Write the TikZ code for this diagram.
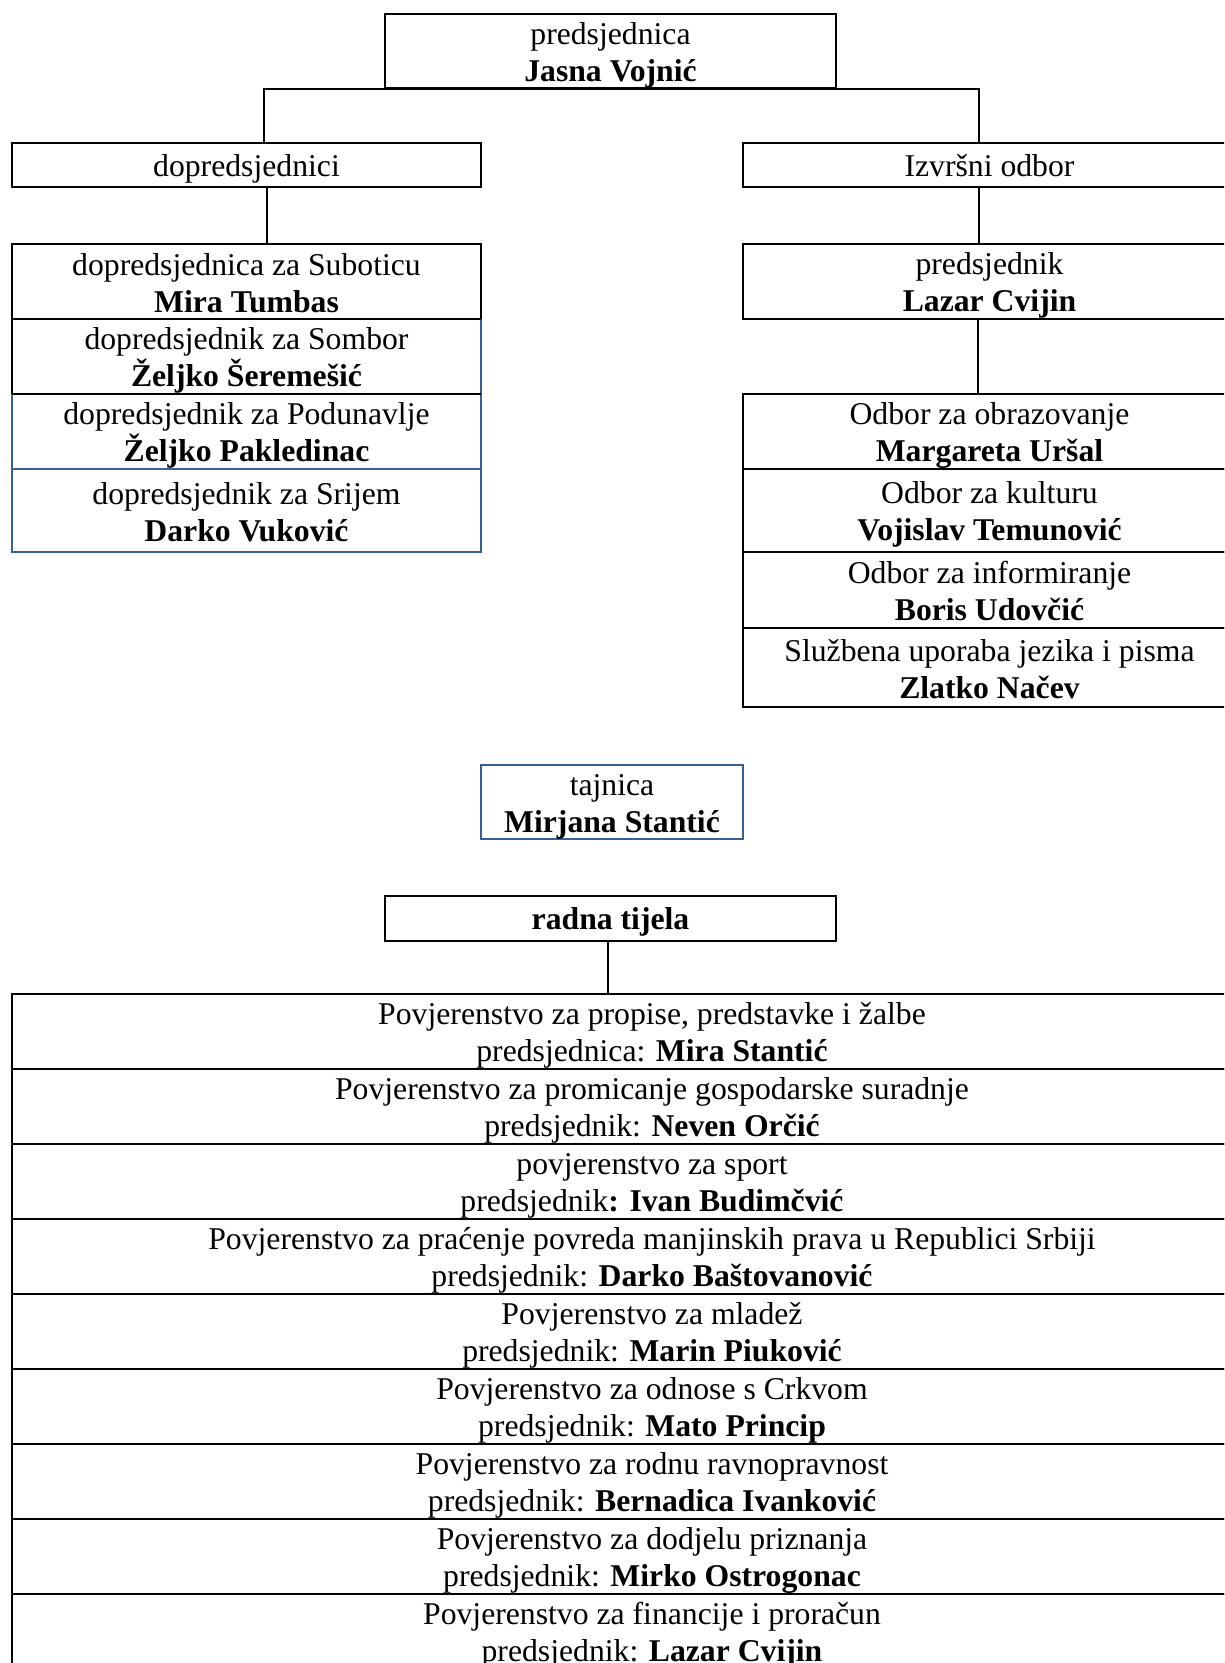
\documentclass[tikz,border=0pt]{standalone}
\usepackage{fontspec}
\setmainfont{Liberation Serif}
\definecolor{bordblue}{RGB}{56,96,148}
\newcommand{\twol}[2]{\rule{0pt}{30pt}#1\\#2\rule[-6pt]{0pt}{6pt}}
\tikzset{
  plainbox/.style={inner sep=0pt, align=center, font=\fontsize{31.7}{37}\selectfont},
  orgbox/.style={plainbox, draw=black, line width=2pt},
  singlebox/.style={orgbox, text height=30pt, text depth=8pt},
  conn/.style={draw=black, line width=2pt},
  bluebox/.style={orgbox, draw=bordblue},
}
\begin{document}
\begin{tikzpicture}[x=1pt,y=-1pt]
\useasboundingbox (0,0) rectangle (1224,1663);
\clip (0,0) rectangle (1224,1663);
\fill[white] (0,0) rectangle (1224,1663);

% top
\node[orgbox, minimum width=451pt, minimum height=74pt] (top) at (610.5,51) {\twol{predsjednica}{\textbf{Jasna Vojnić}}};

% second level
\node[singlebox, minimum width=469pt, minimum height=44pt] (dop) at (246.5,165) {dopredsjednici};
\node[singlebox, minimum width=493pt, minimum height=44pt] (izv) at (989.5,165) {Izvršni odbor};

% left stack
\node[plainbox, minimum width=469pt, minimum height=75pt] (L1) at (246.5,281.5) {\twol{dopredsjednica za Suboticu}{\textbf{Mira Tumbas}}};
\node[plainbox, minimum width=469pt, minimum height=75pt] (L2) at (246.5,356.5) {\twol{dopredsjednik za Sombor}{\textbf{Željko Šeremešić}}};
\node[plainbox, minimum width=469pt, minimum height=75pt] (L3) at (246.5,431.5) {\twol{dopredsjednik za Podunavlje}{\textbf{Željko Pakledinac}}};
\node[plainbox, minimum width=469pt, minimum height=83pt] (L4) at (246.5,510.5) {\twol{dopredsjednik za Srijem}{\textbf{Darko Vuković}}};
\draw[line width=2pt, bordblue] (L1.south east) -- (L4.south east) -- (L4.south west) -- (L2.south west);
\draw[line width=2pt, bordblue] (L3.south west) -- (L3.south east);
\draw[line width=2pt, black] (L2.south west) -- (L1.north west) -- (L1.north east) -- (L1.south east);
\draw[line width=2pt, black] (L1.south west) -- (L1.south east);
\draw[line width=2pt, black] (L2.south west) -- (L2.south east);

% right side
\node[orgbox, minimum width=493pt, minimum height=75pt] (pred) at (989.5,281.5) {\twol{predsjednik}{\textbf{Lazar Cvijin}}};
\node[orgbox, minimum width=493pt, minimum height=75pt] (R1) at (989.5,431.5) {\twol{Odbor za obrazovanje}{\textbf{Margareta Uršal}}};
\node[orgbox, minimum width=493pt, minimum height=83pt] (R2) at (989.5,510.5) {\twol{Odbor za kulturu}{\textbf{Vojislav Temunović}}};
\node[orgbox, minimum width=493pt, minimum height=76pt] (R3) at (989.5,590) {\twol{Odbor za informiranje}{\textbf{Boris Udovčić}}};
\node[orgbox, minimum width=493pt, minimum height=79pt] (R4) at (989.5,667.5) {\twol{Službena uporaba jezika i pisma}{\textbf{Zlatko Načev}}};

% secretary
\node[bluebox, minimum width=262pt, minimum height=74pt] (taj) at (612,802) {\twol{tajnica}{\textbf{Mirjana Stantić}}};

% working bodies
\node[singlebox, minimum width=451pt, minimum height=45pt] (radna) at (610.5,918.5) {\textbf{radna tijela}};

\node[orgbox, minimum width=1280pt, minimum height=75pt] (B1) at (652,1031.5) {\twol{Povjerenstvo za propise, predstavke i žalbe}{predsjednica: \textbf{Mira Stantić}}};
\node[orgbox, minimum width=1280pt, minimum height=75pt] (B2) at (652,1106.5) {\twol{Povjerenstvo za promicanje gospodarske suradnje}{predsjednik: \textbf{Neven Orčić}}};
\node[orgbox, minimum width=1280pt, minimum height=75pt] (B3) at (652,1181.5) {\twol{povjerenstvo za sport}{predsjednik\textbf{: Ivan Budimčvić}}};
\node[orgbox, minimum width=1280pt, minimum height=75pt] (B4) at (652,1256.5) {\twol{Povjerenstvo za praćenje povreda manjinskih prava u Republici Srbiji}{predsjednik: \textbf{Darko Baštovanović}}};
\node[orgbox, minimum width=1280pt, minimum height=75pt] (B5) at (652,1331.5) {\twol{Povjerenstvo za mladež}{predsjednik: \textbf{Marin Piuković}}};
\node[orgbox, minimum width=1280pt, minimum height=75pt] (B6) at (652,1406.5) {\twol{Povjerenstvo za odnose s Crkvom}{predsjednik: \textbf{Mato Princip}}};
\node[orgbox, minimum width=1280pt, minimum height=75pt] (B7) at (652,1481.5) {\twol{Povjerenstvo za rodnu ravnopravnost}{predsjednik: \textbf{Bernadica Ivanković}}};
\node[orgbox, minimum width=1280pt, minimum height=75pt] (B8) at (652,1556.5) {\twol{Povjerenstvo za dodjelu priznanja}{predsjednik: \textbf{Mirko Ostrogonac}}};
\node[orgbox, minimum width=1280pt, minimum height=75pt] (B9) at (652,1631.5) {\twol{Povjerenstvo za financije i proračun}{predsjednik: \textbf{Lazar Cvijin}}};

% connectors
\draw[conn] ([xshift=17.5pt]dop.north) |- (top.south) -| ([xshift=-10.5pt]izv.north);
\draw[conn] ([xshift=20.5pt]dop.south) -- ([xshift=20.5pt]L1.north);
\draw[conn] ([xshift=-10.5pt]izv.south) -- ([xshift=-10.5pt]pred.north);
\draw[conn] ([xshift=-11.5pt]pred.south) -- ([xshift=-11.5pt]R1.north);
\draw[conn] ([xshift=-3pt]radna.south) -- ([xshift=-3pt]radna.south |- B1.north);
\end{tikzpicture}
\end{document}
